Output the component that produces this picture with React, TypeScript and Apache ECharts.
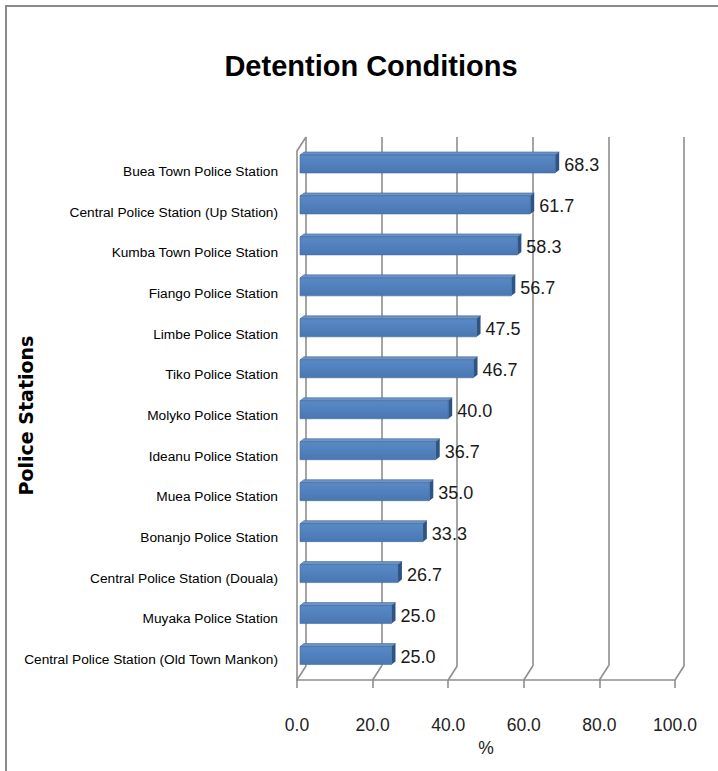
import React, { useEffect, useRef } from "react";
import * as echarts from "echarts";

const stations: string[] = [
  "Buea Town Police Station",
  "Central Police Station (Up Station)",
  "Kumba Town Police Station",
  "Fiango Police Station",
  "Limbe Police Station",
  "Tiko Police Station",
  "Molyko Police Station",
  "Ideanu Police Station",
  "Muea Police Station",
  "Bonanjo Police Station",
  "Central Police Station (Douala)",
  "Muyaka Police Station",
  "Central Police Station (Old Town Mankon)",
];
const percentages: number[] = [68.3, 61.7, 58.3, 56.7, 47.5, 46.7, 40.0, 36.7, 35.0, 33.3, 26.7, 25.0, 25.0];
const xTicks: number[] = [0, 20, 40, 60, 80, 100];

const FONT = "'Liberation Sans', Arial, sans-serif";
const GRID_COLOR = "#8e8e8e";
const DEPTH_X = 9;
const DEPTH_Y = -14;

export default function App() {
  const ref = useRef<HTMLDivElement>(null);
  useEffect(() => {
    if (!ref.current) return;
    const chart = echarts.init(ref.current, null, { renderer: "svg" });
    const option: any = {
      animation: false,
      backgroundColor: "#ffffff",
      title: {
        text: "Detention Conditions",
        left: 366,
        textAlign: "center",
        top: 46,
        textStyle: { fontFamily: FONT, fontWeight: "bold", fontSize: 29, color: "#000" },
      },
      grid: [
        { left: 306, top: 137, width: 378, height: 529, outerBoundsMode: "none", containLabel: false },
        { left: 297, top: 151, width: 378, height: 529, outerBoundsMode: "none", containLabel: false },
        { left: 297, top: 143.5, width: 378, height: 532.5, outerBoundsMode: "none", containLabel: false },
      ],
      xAxis: [
        {
          gridIndex: 0, type: "value", min: 0, max: 100, interval: 20,
          axisLine: { show: false }, axisTick: { show: false }, axisLabel: { show: false },
          splitLine: { show: true, lineStyle: { color: GRID_COLOR, width: 1.6 } },
        },
        {
          gridIndex: 1, type: "value", min: 0, max: 100, interval: 20,
          name: "%", nameLocation: "middle", nameGap: 59, nameMoveOverlap: false,
          nameTextStyle: { fontFamily: FONT, fontSize: 17.5, color: "#222" },
          axisLine: { show: true, onZero: false, lineStyle: { color: GRID_COLOR, width: 1.6 } },
          axisTick: { show: true, length: 8, lineStyle: { color: GRID_COLOR, width: 1.6 } },
          axisLabel: { margin: 36, fontFamily: FONT, fontSize: 17.5, color: "#222", formatter: (v: number) => v.toFixed(1) },
          splitLine: { show: false },
        },
        {
          gridIndex: 2, type: "value", min: 0, max: 100, show: false, splitLine: { show: false },
        },
      ],
      yAxis: [
        { gridIndex: 0, type: "value", show: false, splitLine: { show: false } },
        {
          gridIndex: 1, type: "category", data: stations, inverse: true,
          name: "Police Stations", nameLocation: "middle", nameRotate: 90, nameGap: 262, nameMoveOverlap: false,
          nameTextStyle: { fontFamily: "'DejaVu Sans', sans-serif", fontWeight: "bold", fontSize: 19, color: "#000" },
          axisLine: { show: true, onZero: false, lineStyle: { color: GRID_COLOR, width: 1.6 } },
          axisTick: { show: false },
          axisLabel: { margin: 19, fontFamily: FONT, fontSize: 13.7, color: "#000" },
        },
        { gridIndex: 2, type: "category", data: stations, inverse: true, show: false },
      ],
      series: [
        {
          type: "custom",
          xAxisIndex: 1,
          yAxisIndex: 1,
          silent: true,
          encode: { x: 0, y: 1 },
          data: xTicks.map((v) => [v, 0]),
          renderItem: (params: any, api: any) => {
            const cs = params.coordSys;
            const px = api.coord([api.value(0), 0])[0];
            const bottom = cs.y + cs.height;
            const children: any[] = [
              {
                type: "line",
                shape: { x1: px, y1: bottom, x2: px + DEPTH_X, y2: bottom + DEPTH_Y },
                style: { stroke: GRID_COLOR, lineWidth: 1.6 },
              },
            ];
            if (api.value(0) === 0) {
              children.push({
                type: "line",
                shape: { x1: px, y1: cs.y, x2: px + DEPTH_X, y2: cs.y + DEPTH_Y },
                style: { stroke: GRID_COLOR, lineWidth: 1.6 },
              });
            }
            return { type: "group", children };
          },
          z: 1,
        },
        {
          type: "custom",
          xAxisIndex: 2,
          yAxisIndex: 2,
          silent: true,
          encode: { x: 0, y: 1 },
          data: percentages.map((v, i) => [v, i]),
          renderItem: (params: any, api: any) => {
            const v = api.value(0);
            const idx = api.value(1);
            const s = api.coord([0, idx]);
            const e = api.coord([v, idx]);
            const h = 18;
            const dx = 4;
            const dy = -3;
            const x0 = s[0] + 3;
            const x1 = e[0];
            const yt = s[1] - h / 2;
            const yb = s[1] + h / 2;
            return {
              type: "group",
              children: [
                {
                  type: "polygon",
                  shape: { points: [[x0, yt], [x0 + dx, yt + dy], [x1 + dx, yt + dy], [x1, yt]] },
                  style: { fill: "#6d94c8", stroke: "#3f6799", lineWidth: 0.6 },
                },
                {
                  type: "polygon",
                  shape: { points: [[x1, yt], [x1 + dx, yt + dy], [x1 + dx, yb + dy], [x1, yb]] },
                  style: { fill: "#2d5485" },
                },
                {
                  type: "rect",
                  shape: { x: x0, y: yt, width: x1 - x0, height: h },
                  style: {
                    fill: new echarts.graphic.LinearGradient(0, 0, 0, 1, [
                      { offset: 0, color: "#5a8ac6" },
                      { offset: 1, color: "#4877b2" },
                    ]),
                    stroke: "#41699c",
                    lineWidth: 0.6,
                  },
                },
                {
                  type: "text",
                  style: {
                    text: v.toFixed(1),
                    x: x1 + dx + 5,
                    y: s[1] + 1,
                    verticalAlign: "middle",
                    align: "left",
                    fontFamily: FONT,
                    fontSize: 18,
                    fill: "#1a1a1a",
                  },
                },
              ],
            };
          },
          z: 3,
        },
      ],
    };
    chart.setOption(option);
    return () => chart.dispose();
  }, []);

  return (
    <div style={{ position: "absolute", left: 0, top: 0, width: 718, height: 771, background: "#fff", overflow: "hidden" }}>
      <div ref={ref} style={{ position: "absolute", left: 0, top: 0, width: 718, height: 771 }} />
      <div
        style={{
          position: "absolute", left: 5, top: 5, width: 800, height: 800,
          borderTop: "2px solid #8a8a8a", borderLeft: "2px solid #8a8a8a", pointerEvents: "none",
        }}
      />
    </div>
  );
}
